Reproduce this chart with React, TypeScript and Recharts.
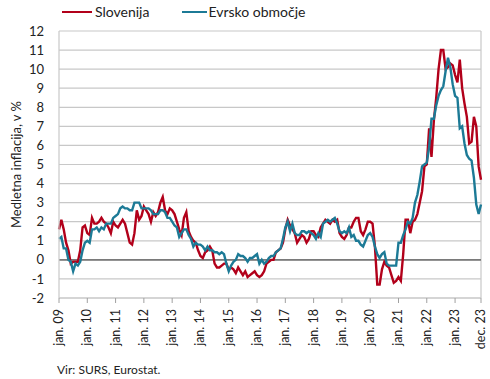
import { LineChart, Line, XAxis, YAxis, CartesianGrid, ReferenceLine } from "recharts";

const MONTHS = ["jan", "feb", "mar", "apr", "maj", "jun", "jul", "avg", "sep", "okt", "nov", "dec"];
const YEARS = ["09", "10", "11", "12", "13", "14", "15", "16", "17", "18", "19", "20", "21", "22", "23"];
const categories = YEARS.flatMap((y) => MONTHS.map((m) => `${m}. ${y}`));

const xTicks = [...YEARS.map((y) => `jan. ${y}`), "dec. 23"];
const yTicks = [-2, -1, 0, 1, 2, 3, 4, 5, 6, 7, 8, 9, 10, 11, 12];

// medletna inflacija, v %
const slovenija = [
  1.6, 2.1, 1.6, 0.9, 0.5, -0.2, -0.1, -0.1, -0.1, 0.5, 1.7, 1.8,
  1.4, 1.3, 2.2, 1.9, 1.9, 2.0, 2.2, 2.0, 1.9, 1.7, 1.4, 2.0,
  1.8, 1.7, 1.9, 2.1, 1.9, 1.4, 0.9, 0.8, 1.4, 2.6, 2.1, 2.3,
  2.8, 2.6, 2.4, 2.0, 2.5, 2.3, 2.5, 3.0, 3.3, 2.6, 2.4, 2.7,
  2.6, 2.4, 2.0, 1.6, 1.3, 2.2, 2.5, 1.5, 1.2, 1.0, 0.9, 0.5,
  0.2, 0.1, 0.4, 0.5, 0.7, 0.5, -0.2, -0.4, -0.4, -0.3, -0.2, -0.2,
  -0.5, -0.4, -0.5, -0.7, -0.4, -0.6, -0.8, -0.6, -0.9, -0.8, -0.7, -0.6,
  -0.8, -0.9, -0.8, -0.6, -0.2, -0.1, 0.0, 0.0, 0.4, 0.5, 0.6, 0.9,
  1.6, 2.1, 1.8, 1.6, 1.4, 0.9, 1.1, 1.3, 1.2, 0.9, 1.1, 1.5,
  1.5, 1.3, 1.2, 1.7, 1.9, 2.1, 2.0, 1.9, 2.1, 2.0, 2.1, 1.4,
  1.2, 1.1, 1.3, 1.7, 1.7, 2.0, 2.2, 2.2, 1.5, 1.3, 1.6, 2.0,
  2.0, 1.9, 0.7, -1.3, -1.3, -0.5, -0.1, -0.3, -0.4, -0.8, -1.2, -1.1,
  -0.9, -1.1, 0.3, 2.1, 2.1, 1.4, 2.0, 2.1, 2.4, 3.0, 3.6, 4.9,
  5.0, 6.9, 5.4, 7.3, 8.5, 10.0, 11.0, 11.0, 10.0, 10.1, 10.3, 10.2,
  9.7, 9.3, 10.5, 9.0, 8.2, 7.5, 6.1, 6.2, 7.5, 7.0, 4.9, 4.2,
];

const evrskoObmocje = [
  1.1, 1.2, 0.6, 0.6, 0.0, -0.1, -0.6, -0.2, -0.3, -0.1, 0.5, 0.9,
  1.0, 0.9, 1.6, 1.6, 1.7, 1.5, 1.7, 1.6, 1.9, 1.9, 1.9, 2.2,
  2.3, 2.4, 2.7, 2.8, 2.7, 2.7, 2.6, 2.6, 3.0, 3.0, 3.0, 2.7,
  2.7, 2.7, 2.7, 2.6, 2.4, 2.4, 2.4, 2.6, 2.6, 2.5, 2.2, 2.2,
  2.0, 1.8, 1.7, 1.2, 1.4, 1.6, 1.6, 1.3, 1.1, 0.7, 0.9, 0.8,
  0.8, 0.7, 0.5, 0.7, 0.5, 0.5, 0.4, 0.4, 0.3, 0.4, 0.3, -0.2,
  -0.6, -0.3, -0.1, 0.0, 0.3, 0.2, 0.2, 0.1, -0.1, 0.1, 0.1, 0.2,
  0.3, -0.2, 0.0, -0.2, -0.1, 0.1, 0.2, 0.2, 0.4, 0.5, 0.6, 1.1,
  1.7, 2.0, 1.5, 1.9, 1.4, 1.3, 1.3, 1.5, 1.5, 1.4, 1.5, 1.4,
  1.3, 1.1, 1.4, 1.2, 1.9, 2.0, 2.1, 2.0, 2.1, 2.2, 1.9, 1.5,
  1.4, 1.5, 1.4, 1.7, 1.2, 1.3, 1.0, 1.0, 0.8, 0.7, 1.0, 1.3,
  1.4, 1.2, 0.7, 0.3, 0.1, 0.3, 0.4, -0.2, -0.3, -0.3, -0.3, -0.3,
  0.9, 0.9, 1.3, 1.6, 2.0, 1.9, 2.2, 3.0, 3.4, 4.1, 4.9, 5.0,
  5.1, 5.9, 7.4, 7.4, 8.1, 8.6, 8.9, 9.1, 9.9, 10.6, 10.1, 9.2,
  8.6, 8.5, 6.9, 7.0, 6.1, 5.5, 5.3, 5.2, 4.3, 2.9, 2.4, 2.9,
];

const data = categories.map((month, i) => ({
  month,
  slovenija: slovenija[i],
  evro: evrskoObmocje[i],
}));

const FONT = "Lato, 'Open Sans', sans-serif";
const GRID = "#c8c8c8";
const RED = "#b2001a";
const TEAL = "#1c7a96";

function MonthTick({ x, y, payload }: any) {
  return (
    <text
      x={x}
      y={y}
      dy={4}
      transform={`rotate(-90, ${x}, ${y})`}
      textAnchor="end"
      fontSize={12.5}
      fontFamily={FONT}
      fill="#222"
    >
      {payload.value}
    </text>
  );
}

export default function App() {
  return (
    <div style={{ position: "absolute", left: 0, top: 0, width: 490, height: 379, background: "#fff", fontFamily: FONT }}>
      <div style={{ position: "absolute", left: 62, top: 3, display: "flex", alignItems: "center", fontSize: 14, color: "#222" }}>
        <span style={{ display: "inline-block", width: 30, height: 2, background: RED, marginRight: 3 }} />
        <span>Slovenija</span>
        <span style={{ display: "inline-block", width: 25, height: 2, background: TEAL, marginLeft: 33, marginRight: 1 }} />
        <span>Evrsko območje</span>
      </div>
      <LineChart width={490} height={379} data={data} margin={{ top: 31, right: 9, bottom: 26, left: 0 }}>
        <CartesianGrid vertical={false} stroke={GRID} strokeWidth={1.2} />
        <XAxis
          dataKey="month"
          ticks={xTicks}
          interval={0}
          height={55}
          tick={<MonthTick />}
          tickSize={5}
          tickMargin={6}
          tickLine={{ stroke: "#a0a0a0" }}
          axisLine={{ stroke: GRID, strokeWidth: 1.2 }}
        />
        <YAxis
          domain={[-2, 12]}
          ticks={yTicks}
          interval={0}
          width={59}
          tickLine={false}
          tickMargin={9}
          axisLine={{ stroke: GRID, strokeWidth: 1.2 }}
          tick={{ fontSize: 13, fill: "#222", fontFamily: FONT }}
          label={{
            value: "Medletna inflacija, v %",
            angle: -90,
            position: "insideLeft",
            offset: 16,
            style: { textAnchor: "middle", fontSize: 13, fill: "#222", fontFamily: FONT },
          }}
        />
        <ReferenceLine x="dec. 23" stroke={GRID} strokeWidth={1.2} />
        <ReferenceLine y={0} stroke="#7a7a7a" strokeWidth={1.8} />
        <Line dataKey="slovenija" stroke={RED} strokeWidth={2.4} dot={false} isAnimationActive={false} />
        <Line dataKey="evro" stroke={TEAL} strokeWidth={2.4} dot={false} isAnimationActive={false} />
      </LineChart>
      <div style={{ position: "absolute", left: 57, top: 362, fontSize: 12, color: "#222" }}>Vir: SURS, Eurostat.</div>
    </div>
  );
}
